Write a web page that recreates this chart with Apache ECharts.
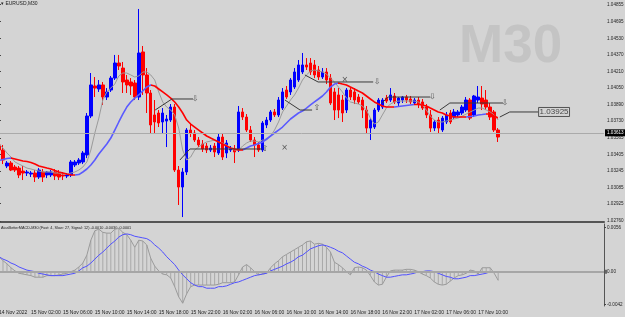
<!DOCTYPE html>
<html>
<head>
<meta charset="utf-8">
<script src="https://cdn.jsdelivr.net/npm/echarts@6/dist/echarts.min.js"></script>
<style>
  html, body { margin: 0; padding: 0; background: #d4d4d4; }
  #chart { width: 625px; height: 317px; }
</style>
</head>
<body>
<div id="chart"></div>
<script>
// EURUSD M30 bars, 14 Nov 22:00 .. 17 Nov 12:30 — [open, close, low, high]
const candles = [
  [1.03495, 1.03446, 1.03427, 1.03543], [1.03446, 1.03349, 1.03310, 1.03495], [1.03291, 1.03320, 1.03271, 1.03339],
  [1.03320, 1.03252, 1.03242, 1.03339], [1.03281, 1.03252, 1.03233, 1.03301], [1.03271, 1.03204, 1.03174, 1.03291],
  [1.03242, 1.03223, 1.03155, 1.03291], [1.03223, 1.03233, 1.03194, 1.03252], [1.03213, 1.03223, 1.03184, 1.03242],
  [1.03223, 1.03184, 1.03136, 1.03252], [1.03184, 1.03252, 1.03165, 1.03271], [1.03233, 1.03184, 1.03136, 1.03262],
  [1.03204, 1.03233, 1.03174, 1.03242], [1.03204, 1.03233, 1.03184, 1.03252], [1.03233, 1.03194, 1.03155, 1.03262],
  [1.03223, 1.03184, 1.03155, 1.03252], [1.03204, 1.03194, 1.03155, 1.03233], [1.03194, 1.03204, 1.03174, 1.03223],
  [1.03204, 1.03330, 1.03184, 1.03349], [1.03301, 1.03330, 1.03281, 1.03349], [1.03320, 1.03349, 1.03301, 1.03368],
  [1.03330, 1.03417, 1.03310, 1.03436], [1.03398, 1.03776, 1.03368, 1.03805], [1.03776, 1.04077, 1.03756, 1.04193],
  [1.04067, 1.04047, 1.03960, 1.04154], [1.04038, 1.04077, 1.04009, 1.04125], [1.04077, 1.03960, 1.03883, 1.04106],
  [1.03960, 1.04009, 1.03931, 1.04047], [1.04028, 1.04144, 1.04009, 1.04164], [1.04144, 1.04290, 1.04125, 1.04368],
  [1.04290, 1.04261, 1.04222, 1.04368], [1.04241, 1.04106, 1.03999, 1.04300], [1.04125, 1.04077, 1.03999, 1.04174],
  [1.04106, 1.04067, 1.03980, 1.04144], [1.04096, 1.03960, 1.03931, 1.04125], [1.03960, 1.04387, 1.03931, 1.04814],
  [1.04397, 1.04174, 1.03980, 1.04455], [1.04174, 1.03999, 1.03805, 1.04241], [1.03999, 1.03689, 1.03611, 1.04028],
  [1.03786, 1.03718, 1.03611, 1.03931], [1.03805, 1.03708, 1.03669, 1.03834], [1.03718, 1.03805, 1.03611, 1.03853],
  [1.03727, 1.03747, 1.03475, 1.03786], [1.03737, 1.03863, 1.03718, 1.03892], [1.03863, 1.03252, 1.03233, 1.03892],
  [1.03252, 1.03087, 1.02913, 1.03291], [1.03087, 1.03233, 1.02796, 1.03271], [1.03233, 1.03640, 1.03204, 1.03659],
  [1.03640, 1.03611, 1.03572, 1.03698], [1.03611, 1.03543, 1.03524, 1.03640], [1.03543, 1.03495, 1.03475, 1.03572],
  [1.03504, 1.03456, 1.03427, 1.03543], [1.03485, 1.03446, 1.03417, 1.03514], [1.03446, 1.03465, 1.03427, 1.03495],
  [1.03485, 1.03427, 1.03378, 1.03514], [1.03417, 1.03572, 1.03398, 1.03611], [1.03572, 1.03378, 1.03349, 1.03611],
  [1.03417, 1.03514, 1.03368, 1.03543], [1.03446, 1.03456, 1.03427, 1.03485], [1.03446, 1.03427, 1.03320, 1.03495],
  [1.03446, 1.03815, 1.03427, 1.03873], [1.03815, 1.03766, 1.03737, 1.03853], [1.03766, 1.03640, 1.03621, 1.03795],
  [1.03640, 1.03543, 1.03524, 1.03679], [1.03543, 1.03495, 1.03378, 1.03572], [1.03495, 1.03446, 1.03427, 1.03524],
  [1.03446, 1.03708, 1.03427, 1.03727], [1.03689, 1.03737, 1.03659, 1.03766], [1.03737, 1.03815, 1.03718, 1.03834],
  [1.03815, 1.03786, 1.03766, 1.03844], [1.03786, 1.03931, 1.03766, 1.03960], [1.03853, 1.04009, 1.03834, 1.04047],
  [1.04028, 1.03960, 1.03941, 1.04067], [1.04009, 1.04125, 1.03980, 1.04144], [1.04057, 1.04203, 1.04038, 1.04241],
  [1.04125, 1.04271, 1.04106, 1.04319], [1.04203, 1.04271, 1.04183, 1.04387], [1.04271, 1.04251, 1.04222, 1.04338],
  [1.04290, 1.04203, 1.04174, 1.04338], [1.04271, 1.04174, 1.04144, 1.04319], [1.04222, 1.04154, 1.04125, 1.04261],
  [1.04154, 1.04203, 1.04135, 1.04241], [1.04203, 1.04125, 1.04086, 1.04241], [1.04144, 1.03902, 1.03883, 1.04183],
  [1.04009, 1.03834, 1.03737, 1.04047], [1.03980, 1.03834, 1.03756, 1.04047], [1.03931, 1.03805, 1.03718, 1.03980],
  [1.03834, 1.04028, 1.03805, 1.04047], [1.04028, 1.03960, 1.03931, 1.04057], [1.04009, 1.03931, 1.03892, 1.04047],
  [1.03960, 1.03912, 1.03892, 1.03989], [1.03931, 1.03834, 1.03756, 1.03960], [1.03834, 1.03659, 1.03611, 1.03873],
  [1.03659, 1.03737, 1.03543, 1.03756], [1.03669, 1.03834, 1.03650, 1.03853], [1.03834, 1.03931, 1.03815, 1.03950],
  [1.03863, 1.03931, 1.03844, 1.03950], [1.03950, 1.03921, 1.03902, 1.03980], [1.03931, 1.03980, 1.03912, 1.04047],
  [1.03970, 1.03912, 1.03892, 1.03999], [1.03902, 1.03950, 1.03873, 1.03960], [1.03931, 1.03960, 1.03902, 1.03970],
  [1.03960, 1.03931, 1.03902, 1.03980], [1.03941, 1.03912, 1.03892, 1.03970], [1.03902, 1.03931, 1.03883, 1.03950],
  [1.03931, 1.03892, 1.03853, 1.03960], [1.03912, 1.03853, 1.03834, 1.03941], [1.03863, 1.03786, 1.03756, 1.03892],
  [1.03786, 1.03659, 1.03621, 1.03834], [1.03659, 1.03718, 1.03630, 1.03737], [1.03737, 1.03659, 1.03611, 1.03766],
  [1.03640, 1.03756, 1.03621, 1.03776], [1.03718, 1.03786, 1.03698, 1.03815], [1.03805, 1.03718, 1.03698, 1.03834],
  [1.03766, 1.03815, 1.03747, 1.03844], [1.03786, 1.03815, 1.03766, 1.03834], [1.03805, 1.03863, 1.03786, 1.03883],
  [1.03834, 1.03931, 1.03815, 1.03960], [1.03931, 1.03756, 1.03737, 1.03950], [1.03786, 1.03970, 1.03766, 1.03980],
  [1.03931, 1.03960, 1.03902, 1.04067], [1.03950, 1.03892, 1.03834, 1.04067], [1.03931, 1.03863, 1.03834, 1.04028],
  [1.03863, 1.03766, 1.03737, 1.03902], [1.03815, 1.03640, 1.03621, 1.03834], [1.03640, 1.03572, 1.03524, 1.03659]
];

// slow moving average (drawn blue while rising, red while falling)
const trendMa = [
  1.03344, 1.03354, 1.03364, 1.03368, 1.03359, 1.03349, 1.03339, 1.03334, 1.03325, 1.03310,
  1.03291, 1.03281, 1.03271, 1.03262, 1.03247, 1.03233, 1.03223, 1.03213, 1.03204, 1.03204,
  1.03208, 1.03233, 1.03262, 1.03301, 1.03349, 1.03407, 1.03456, 1.03504, 1.03562, 1.03640,
  1.03718, 1.03795, 1.03863, 1.03912, 1.03950, 1.03980, 1.04018, 1.04057, 1.04077, 1.04067,
  1.04038, 1.04009, 1.03980, 1.03950, 1.03912, 1.03863, 1.03805, 1.03737, 1.03698, 1.03669,
  1.03640, 1.03611, 1.03582, 1.03562, 1.03543, 1.03524, 1.03504, 1.03485, 1.03465, 1.03456,
  1.03446, 1.03446, 1.03465, 1.03485, 1.03495, 1.03509, 1.03524, 1.03553, 1.03582, 1.03611,
  1.03640, 1.03669, 1.03708, 1.03747, 1.03776, 1.03805, 1.03824, 1.03853, 1.03883, 1.03912,
  1.03941, 1.03970, 1.04009, 1.04057, 1.04086, 1.04096, 1.04086, 1.04077, 1.04057, 1.04038,
  1.04018, 1.03999, 1.03970, 1.03941, 1.03912, 1.03892, 1.03873, 1.03863, 1.03863, 1.03863,
  1.03868, 1.03873, 1.03878, 1.03883, 1.03887, 1.03887, 1.03883, 1.03873, 1.03853, 1.03834,
  1.03815, 1.03805, 1.03786, 1.03776, 1.03766, 1.03766, 1.03766, 1.03766, 1.03771, 1.03776,
  1.03786, 1.03790, 1.03795, 1.03795, 1.03776, 1.03756
];

// fast moving average (thin grey)
const fastMa = [
  1.03504, 1.03465, 1.03417, 1.03378, 1.03330, 1.03310, 1.03291, 1.03271, 1.03262, 1.03252,
  1.03242, 1.03233, 1.03233, 1.03233, 1.03223, 1.03223, 1.03213, 1.03213, 1.03223, 1.03233,
  1.03252, 1.03281, 1.03330, 1.03446, 1.03611, 1.03756, 1.03931, 1.04009, 1.04047, 1.04086,
  1.04164, 1.04193, 1.04193, 1.04174, 1.04154, 1.04164, 1.04203, 1.04203, 1.04174, 1.04125,
  1.04009, 1.03912, 1.03863, 1.03834, 1.03786, 1.03659, 1.03446, 1.03349, 1.03378, 1.03446,
  1.03475, 1.03504, 1.03524, 1.03533, 1.03543, 1.03524, 1.03514, 1.03495, 1.03465, 1.03446,
  1.03446, 1.03485, 1.03514, 1.03533, 1.03533, 1.03524, 1.03543, 1.03543, 1.03582, 1.03640,
  1.03718, 1.03815, 1.03873, 1.03931, 1.03980, 1.04047, 1.04125, 1.04174, 1.04212, 1.04222,
  1.04212, 1.04203, 1.04183, 1.04144, 1.04106, 1.04057, 1.04009, 1.03950, 1.03912, 1.03902,
  1.03892, 1.03873, 1.03834, 1.03756, 1.03698, 1.03718, 1.03786, 1.03853, 1.03892, 1.03912,
  1.03921, 1.03921, 1.03921, 1.03921, 1.03921, 1.03912, 1.03883, 1.03834, 1.03776, 1.03737,
  1.03718, 1.03718, 1.03727, 1.03737, 1.03747, 1.03756, 1.03776, 1.03795, 1.03815, 1.03834,
  1.03853, 1.03853, 1.03834, 1.03815, 1.03786, 1.03737
];

// MACD window
const macdMain = [
  0.0019, 0.0014, 0.0010, 0.0005, 0.0001, -0.0002, -0.0003, -0.0004, -0.0005, -0.0007,
  -0.0007, -0.0007, -0.0005, -0.0005, -0.0005, -0.0004, -0.0003, -0.0002, 0.0000, 0.0002,
  0.0006, 0.0011, 0.0021, 0.0040, 0.0052, 0.0054, 0.0050, 0.0049, 0.0049, 0.0054,
  0.0055, 0.0050, 0.0047, 0.0040, 0.0031, 0.0040, 0.0039, 0.0034, 0.0017, 0.0007,
  0.0001, -0.0003, -0.0004, -0.0008, -0.0019, -0.0032, -0.0040, -0.0028, -0.0019, -0.0017,
  -0.0017, -0.0017, -0.0017, -0.0017, -0.0017, -0.0016, -0.0014, -0.0014, -0.0014, -0.0013,
  -0.0004, 0.0006, 0.0009, 0.0005, 0.0000, -0.0004, -0.0003, -0.0002, 0.0005, 0.0010,
  0.0014, 0.0019, 0.0022, 0.0025, 0.0028, 0.0031, 0.0034, 0.0038, 0.0039, 0.0035,
  0.0036, 0.0035, 0.0031, 0.0025, 0.0012, 0.0009, 0.0005, 0.0000, -0.0004, 0.0005,
  0.0006, 0.0005, 0.0002, -0.0005, -0.0013, -0.0017, -0.0016, -0.0007, 0.0001, 0.0002,
  0.0002, 0.0002, 0.0003, 0.0003, 0.0002, 0.0000, -0.0003, -0.0005, -0.0008, -0.0013,
  -0.0016, -0.0017, -0.0016, -0.0012, -0.0008, -0.0005, -0.0004, -0.0002, 0.0002, 0.0001,
  -0.0003, 0.0005, 0.0005, 0.0005, -0.0002, -0.0011
];
const macdSignal = [
  0.0019, 0.0016, 0.0014, 0.0011, 0.0009, 0.0006, 0.0004, 0.0002, 0.0001, 0.0000,
  -0.0002, -0.0003, -0.0004, -0.0005, -0.0005, -0.0005, -0.0005, -0.0004, -0.0003, -0.0002,
  0.0001, 0.0005, 0.0007, 0.0011, 0.0016, 0.0021, 0.0025, 0.0030, 0.0035, 0.0039,
  0.0044, 0.0047, 0.0048, 0.0047, 0.0045, 0.0044, 0.0043, 0.0042, 0.0039, 0.0034,
  0.0030, 0.0025, 0.0019, 0.0014, 0.0009, 0.0002, -0.0004, -0.0009, -0.0014, -0.0017,
  -0.0019, -0.0019, -0.0021, -0.0021, -0.0021, -0.0019, -0.0019, -0.0018, -0.0016, -0.0014,
  -0.0013, -0.0011, -0.0009, -0.0007, -0.0005, -0.0004, -0.0003, -0.0002, 0.0001, 0.0003,
  0.0005, 0.0007, 0.0010, 0.0012, 0.0015, 0.0019, 0.0021, 0.0025, 0.0029, 0.0031,
  0.0033, 0.0034, 0.0033, 0.0031, 0.0029, 0.0026, 0.0024, 0.0020, 0.0016, 0.0012,
  0.0010, 0.0007, 0.0005, 0.0002, 0.0000, -0.0003, -0.0005, -0.0007, -0.0007, -0.0006,
  -0.0005, -0.0004, -0.0004, -0.0003, -0.0002, 0.0000, 0.0000, 0.0001, 0.0001, 0.0000,
  -0.0002, -0.0004, -0.0006, -0.0007, -0.0009, -0.0009, -0.0008, -0.0007, -0.0005, -0.0005,
  -0.0004, -0.0003, -0.0002, 0.0000, 0.0000, 0.0000
];

// axis ticks
const priceTicks = [1.04855, 1.04695, 1.04530, 1.04370, 1.04210, 1.04050, 1.03890,
  1.03730, 1.03565, 1.03405, 1.03245, 1.03085, 1.02925, 1.02760];
const macdTicks = [0.0056, -0.0042];
const timeLabels = ['14 Nov 2022', '15 Nov 02:00', '15 Nov 06:00', '15 Nov 10:00', '15 Nov 14:00',
  '15 Nov 18:00', '15 Nov 22:00', '16 Nov 02:00', '16 Nov 06:00', '16 Nov 10:00', '16 Nov 14:00',
  '16 Nov 18:00', '16 Nov 22:00', '17 Nov 02:00', '17 Nov 06:00', '17 Nov 10:00'];
const barsPerLabel = 8;
const slotCount = 152;     // bars + empty shift area on the right
const bidPrice = 1.03613;

// objects drawn on the chart, as [bar position, price]
const chartLines = [
  [[39.1, 1.03834], [43.3, 1.03941], [48.6, 1.03941]],
  [[45.3, 1.03349], [47.8, 1.03456], [65.9, 1.03456]],
  [[71.6, 1.03931], [75.4, 1.03834], [78.4, 1.03834]],
  [[76.6, 1.04174], [79.9, 1.04106], [93.7, 1.04106]],
  [[95.9, 1.03902], [97.4, 1.03960], [108.0, 1.03960]],
  [[110.4, 1.03834], [112.9, 1.03902], [126.2, 1.03902]],
  [[125.4, 1.03766], [127.9, 1.03815], [135.0, 1.03815]]
];
const chartMarks = [
  [49.1, 1.03941, '⇩'], [66.6, 1.03456, '⇧'], [79.6, 1.03853, '⇧'], [94.7, 1.04106, '⇩'],
  [108.5, 1.03960, '⇩'], [126.7, 1.03902, '⇩'], [71.5, 1.03465, '×'], [86.6, 1.04125, '×']
];
const priceTag = [135.0, 1.03815, '1.03925'];

const categories = Array.from({ length: slotCount }, (_, i) =>
  (i % barsPerLabel === 0 && timeLabels[i / barsPerLabel]) || '');

// colour pieces for the slow MA: rising -> blue, otherwise red
const pieces = [];
for (let i = 1; i < trendMa.length; i++) {
  const color = trendMa[i] > trendMa[i - 1] ? '#5a5aff' : '#ff0000';
  const last = pieces[pieces.length - 1];
  if (last && last.color === color) last.lte = i;
  else pieces.push(i === 1 ? { gte: 0, lte: i, color } : { gt: i - 1, lte: i, color });
}

const axisFont = { fontFamily: 'Liberation Sans', color: '#1e1e1e' };
const chart = echarts.init(document.getElementById('chart'));

chart.setOption({
  animation: false,
  backgroundColor: '#d4d4d4',
  grid: [
    { left: -3, right: 21, top: 0, height: 222, outerBoundsMode: 'none' },
    { left: -3, right: 21, top: 224, height: 82, outerBoundsMode: 'none' }
  ],
  xAxis: [
    { type: 'category', gridIndex: 0, data: categories, boundaryGap: true,
      axisLine: { lineStyle: { color: '#555', width: 2 } }, axisTick: { show: false },
      axisLabel: { show: false }, splitLine: { show: false } },
    { type: 'category', gridIndex: 1, data: categories, boundaryGap: true,
      axisLine: { lineStyle: { color: '#555', width: 1 } },
      axisTick: { alignWithLabel: true, length: 3, lineStyle: { color: '#444' },
        interval: (idx, val) => val !== '' },
      axisLabel: { interval: 0, align: 'left', margin: 4, fontSize: 5, ...axisFont },
      splitLine: { show: false } },
    { type: 'value', gridIndex: 0, min: -0.5, max: slotCount - 0.5, show: false }
  ],
  yAxis: [
    { type: 'value', gridIndex: 0, position: 'right', min: 1.02748, max: 1.04901,
      axisLine: { show: true, lineStyle: { color: '#555' } },
      axisTick: { show: true, length: 2, customValues: priceTicks, lineStyle: { color: '#444' } },
      axisLabel: { customValues: priceTicks, margin: 3, fontSize: 4.6, ...axisFont,
        formatter: v => v.toFixed(5) },
      splitLine: { show: false } },
    { type: 'value', gridIndex: 1, position: 'right', min: -0.00436, max: 0.00606,
      axisLine: { show: true, lineStyle: { color: '#555' } },
      axisTick: { show: true, length: 2, customValues: macdTicks, lineStyle: { color: '#444' } },
      axisLabel: { customValues: macdTicks, margin: 3, fontSize: 4.6, ...axisFont,
        formatter: v => v.toFixed(4) },
      splitLine: { show: false } }
  ],
  visualMap: [{ type: 'piecewise', show: false, dimension: 0, seriesIndex: 2, pieces }],
  graphic: [
    { type: 'text', left: 1, top: 1, style: { text: '▾ EURUSD,M30', fontSize: 5,
      fontFamily: 'Liberation Sans', fill: '#222' } },
    { type: 'text', left: 459, top: 21, style: { text: 'M30', fontSize: 53, fontWeight: 'bold',
      fontFamily: 'Liberation Sans', fill: '#c4c4c4' }, z: -1 },
    { type: 'text', left: 1, top: 226, style: {
      text: 'AtasBetterMACD-M30 (Fast: 4, Slow: 27, Signal: 12) -0.0010 -0.0030 -0.0001',
      fontSize: 3.8, fontFamily: 'Liberation Sans', fill: '#222' } }
  ],
  series: [
    { type: 'candlestick', xAxisIndex: 0, yAxisIndex: 0, data: candles, barWidth: 3,
      itemStyle: { color: '#0000ff', color0: '#ff0000', borderColor: '#0000ff',
        borderColor0: '#ff0000', borderWidth: 1 } },
    { type: 'line', xAxisIndex: 0, yAxisIndex: 0, data: fastMa, symbol: 'none',
      lineStyle: { color: '#9a9a9a', width: 1 }, z: 3,
      markLine: { silent: true, symbol: 'none', precision: 5,
        lineStyle: { color: '#aaaaaa', width: 1, type: 'solid' },
        label: { position: 'end', distance: 1, formatter: bidPrice.toFixed(5), fontSize: 4.6,
          fontFamily: 'Liberation Sans', color: '#fff', backgroundColor: '#000', padding: [1, 2] },
        data: [{ yAxis: bidPrice }] } },
    { type: 'line', xAxisIndex: 0, yAxisIndex: 0, data: trendMa, symbol: 'none',
      lineStyle: { width: 1.6 }, z: 4 },
    ...chartLines.map(pts => ({ type: 'line', xAxisIndex: 2, yAxisIndex: 0, data: pts,
      symbol: 'none', lineStyle: { color: '#3a3a3a', width: 1 }, z: 5 })),
    { type: 'scatter', xAxisIndex: 2, yAxisIndex: 0, data: chartMarks, symbolSize: 1,
      itemStyle: { color: 'rgba(0,0,0,0)' }, z: 6,
      label: { show: true, position: 'inside', formatter: p => p.value[2], fontSize: 8,
        fontFamily: 'DejaVu Sans', color: '#333' } },
    { type: 'scatter', xAxisIndex: 2, yAxisIndex: 0, data: [priceTag], symbolSize: 1,
      itemStyle: { color: 'rgba(0,0,0,0)' }, z: 6,
      label: { show: true, position: 'right', distance: 0, formatter: p => p.value[2],
        fontSize: 8, fontFamily: 'Liberation Sans', color: '#222', borderColor: '#333',
        borderWidth: 1, padding: [1, 1, 0, 1] } },
    { type: 'bar', xAxisIndex: 1, yAxisIndex: 1, data: macdMain, barWidth: 1,
      itemStyle: { color: '#a8a8a8' },
      markLine: { silent: true, symbol: 'none', precision: 4,
        lineStyle: { color: '#a6a6a6', width: 2, type: 'solid' },
        label: { position: 'end', distance: 1, formatter: '{b|}0.00', fontSize: 4.6,
          fontFamily: 'Liberation Sans', color: '#1e1e1e',
          rich: { b: { backgroundColor: '#666', width: 2, height: 4 } } },
        data: [{ yAxis: 0 }] } },
    { type: 'line', xAxisIndex: 1, yAxisIndex: 1, data: macdMain, symbol: 'none',
      lineStyle: { color: '#9a9a9a', width: 1 }, z: 3 },
    { type: 'line', xAxisIndex: 1, yAxisIndex: 1, data: macdSignal, symbol: 'none',
      lineStyle: { color: '#5050ff', width: 1 }, z: 4 }
  ]
});
</script>
</body>
</html>
